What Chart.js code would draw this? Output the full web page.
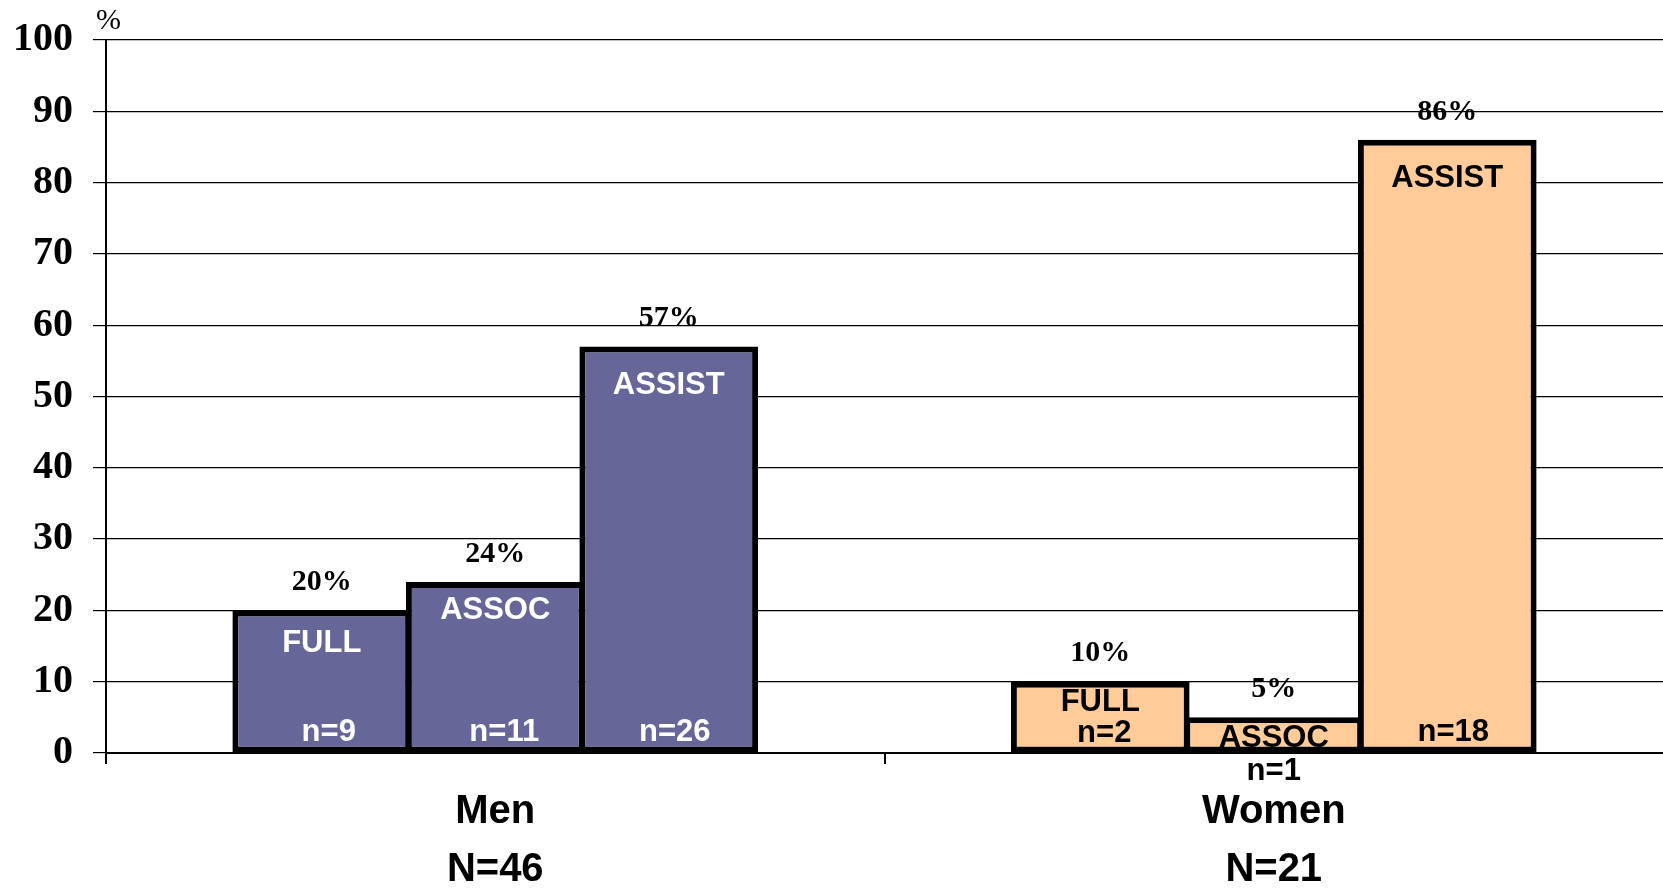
<!DOCTYPE html>
<html>
<head>
<meta charset="utf-8">
<script src="https://cdn.jsdelivr.net/npm/chart.js@4/dist/chart.umd.min.js"></script>
<style>
  body { margin: 0; background: #fff; }
  #wrap { width: 1663px; height: 889px; }
</style>
</head>
<body>
<div id="wrap"><canvas id="myChart"></canvas></div>
<script>
// data
const groups = ['Men', 'Women'];
const groupTotals = ['N=46', 'N=21'];
const ranks = ['FULL', 'ASSOC', 'ASSIST'];
const fullPct = [20, 10];
const assocPct = [24, 5];
const assistPct = [57, 86];
const fullN = [9, 2];
const assocN = [11, 1];
const assistN = [26, 18];
const yTicks = [0, 10, 20, 30, 40, 50, 60, 70, 80, 90, 100];

const groupFill = ['#666699', '#FFCC99'];
const groupText = ['#FFFFFF', '#000000'];

// label placement in px (name offset below bar top, count offset from base, count x shift)
const nameDy = [[33, 21], [29, 21], [39, 39]];
const countDy = [[-21, -20], [-21, 18], [-21, -21]];
const countDx = [[7, 4], [9, 0], [6, 6]];

const pctValues = [fullPct, assocPct, assistPct];
const nValues = [fullN, assocN, assistN];

const barLabels = {
    id: 'barLabels',
    afterDatasetsDraw(chart) {
        const ctx = chart.ctx;
        const yScale = chart.scales.y;
        const base = yScale.getPixelForValue(0);
        ctx.save();
        ctx.textAlign = 'center';
        ctx.textBaseline = 'middle';
        chart.data.datasets.forEach((ds, i) => {
            chart.getDatasetMeta(i).data.forEach((bar, j) => {
                // percentage above the bar
                ctx.fillStyle = '#000';
                ctx.font = 'bold 30px "Liberation Serif"';
                ctx.fillText(pctValues[i][j] + '%', bar.x, bar.y - 28);
                // rank name inside the bar
                ctx.fillStyle = groupText[j];
                ctx.font = 'bold 31px "Liberation Sans"';
                ctx.fillText(ranks[i], bar.x, bar.y + nameDy[i][j]);
                // count
                const dy = countDy[i][j];
                ctx.fillStyle = dy > 0 ? '#000' : groupText[j];
                ctx.fillText('n=' + nValues[i][j], bar.x + countDx[i][j], base + dy);
            });
        });
        // unit above the y axis
        ctx.fillStyle = '#000';
        ctx.textAlign = 'left';
        ctx.font = 'normal 30px "Liberation Serif"';
        ctx.fillText('%', 96, 21);
        ctx.restore();
    }
};

function plotGraph() {
    const ctx = document.getElementById('myChart').getContext('2d');
    new Chart(ctx, {
        type: 'bar',
        data: {
            labels: groups.map((g, i) => [g, groupTotals[i]]),
            datasets: ranks.map((r, i) => ({
                label: r,
                data: pctValues[i],
                backgroundColor: groupFill,
                borderColor: '#000',
                borderWidth: 6,
                borderSkipped: false,
                barPercentage: 1.03,
                categoryPercentage: 0.6686
            }))
        },
        options: {
            responsive: true,
            maintainAspectRatio: false,
            animation: false,
            layout: { padding: { top: 40, right: 0, left: 0, bottom: 0 } },
            scales: {
                x: {
                    afterFit: (axis) => { axis.height = 136; },
                    grid: {
                        drawOnChartArea: false,
                        color: (c) => c.index === undefined ? 'rgba(0,0,0,0)' : '#000', // no tick at the right edge
                        lineWidth: 2,
                        tickLength: 11
                    },
                    border: { display: true, color: '#000', width: 2 },
                    ticks: {
                        color: '#000',
                        padding: 19,
                        font: { family: 'Liberation Sans', size: 40, weight: 'bold', lineHeight: 1.45 }
                    }
                },
                y: {
                    min: 0,
                    max: 100,
                    afterFit: (axis) => {
                        axis.width = 106;
                        axis.paddingTop = 0;
                        axis.paddingBottom = 0;
                    },
                    afterBuildTicks: (axis) => { axis.ticks = yTicks.map(v => ({ value: v })); },
                    grid: { color: '#000', lineWidth: 1.2, tickLength: 13 },
                    border: { display: true, color: '#000', width: 2 },
                    ticks: {
                        color: '#000',
                        padding: 20,
                        font: { family: 'Liberation Serif', size: 40, weight: 'bold' }
                    }
                }
            },
            plugins: {
                legend: { display: false },
                tooltip: { enabled: false }
            }
        },
        plugins: [barLabels]
    });
}

plotGraph();
</script>
</body>
</html>
